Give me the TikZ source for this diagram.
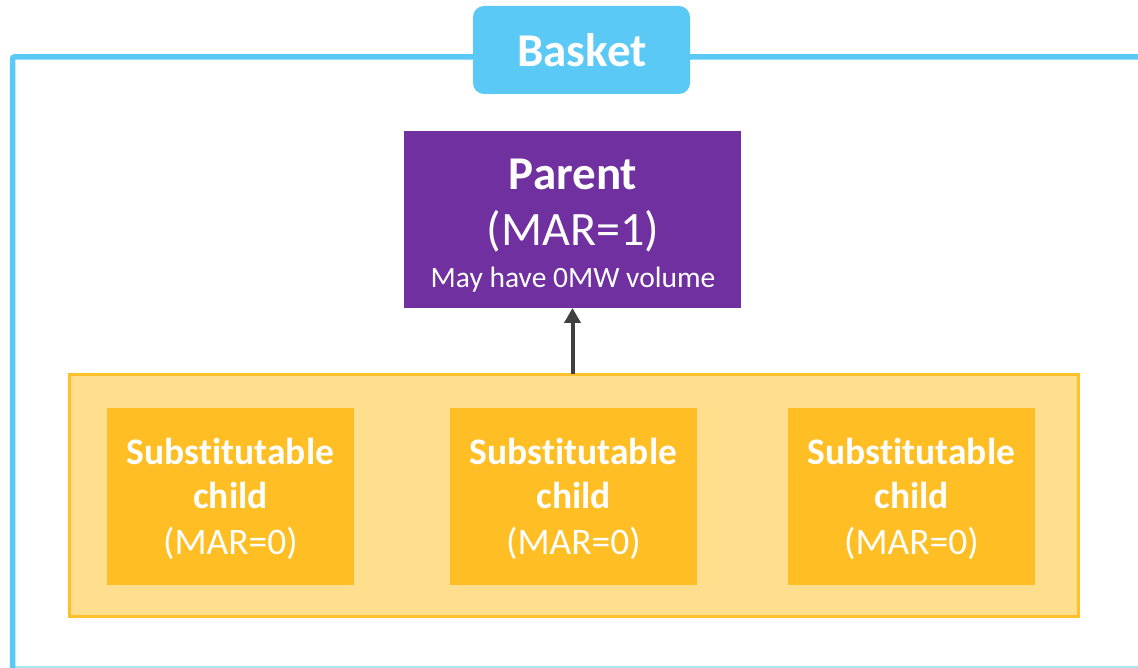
\documentclass[tikz,border=0pt]{standalone}
\usepackage{fontspec}
\setmainfont{Carlito}[Ligatures=NoCommon]
\usetikzlibrary{arrows.meta}
\definecolor{basketblue}{HTML}{5BC9F6}
\definecolor{lineblue}{HTML}{A9E3F4}
\definecolor{parentpurple}{HTML}{7030A0}
\definecolor{outeryellow}{HTML}{FFDE8E}
\definecolor{outerborder}{HTML}{FFC12A}
\definecolor{childyellow}{HTML}{FFBF24}
\definecolor{arrowgray}{HTML}{404040}
\tikzset{
  boxshape/.style={rectangle, inner sep=0pt, outer sep=0pt},
  basketbox/.style={boxshape, fill=basketblue, rounded corners=11pt, minimum width=217pt, minimum height=88pt},
  parentbox/.style={boxshape, fill=parentpurple, minimum width=337pt, minimum height=177pt},
  groupbox/.style={boxshape, fill=outeryellow, draw=outerborder, line width=3pt, minimum width=1009pt, minimum height=242pt},
  childbox/.style={boxshape, fill=childyellow, minimum width=247pt, minimum height=177pt},
  lbl/.style={anchor=base, inner sep=0pt, outer sep=0pt, text=white},
  bigbold/.style={lbl, font=\fontsize{47}{50}\selectfont\bfseries},
  bigreg/.style={lbl, font=\fontsize{48}{50}\selectfont},
  small/.style={lbl, font=\fontsize{29.5}{32}\selectfont},
  childbold/.style={lbl, font=\fontsize{37.5}{40}\selectfont\bfseries},
  childreg/.style={lbl, font=\fontsize{37.5}{40}\selectfont},
  link/.style={arrowgray, line width=4pt, -{Triangle[length=15pt,width=16pt]}}
}
\begin{document}
\begin{tikzpicture}[x=1pt,y=1pt]
\useasboundingbox (0,0) rectangle (1138,-668);
\fill[white] (0,0) rectangle (1138,-668);
% frame
\draw[lineblue, line width=1.5pt] (12,-667) -- (1138,-667);
\draw[basketblue, line width=5.5pt, rounded corners=2pt] (12.5,-670) -- (12.5,-57) -- (1140,-57);
% basket label
\node[basketbox] (basket) at (581.5,-50) {};
\node[bigbold] (baskettxt) at (582,-67) {Basket};
% parent
\node[parentbox] (parent) at (572.5,-219.5) {};
\node[bigbold] (ptitle) at (573,-190) {Parent};
\node[bigreg] (pmar) at (573,-246) {(MAR=1)};
\node[small] (pnote) at (573,-288) {May have 0MW volume};
% group
\node[groupbox] (group) at (573.5,-495) {};
% children
\foreach \n/\x in {c1/230.5, c2/573.5, c3/911.5}{
  \node[childbox] (\n) at (\x,-496.5) {};
  \node[childbold] (\n a) at (\x,-464) {Substitutable};
  \node[childbold] (\n b) at (\x,-508) {child};
  \node[childreg] (\n c) at (\x,-554) {(MAR=0)};
}
% arrow
\draw[link] (group.north -| parent.south) -- (parent.south);
\end{tikzpicture}
\end{document}
